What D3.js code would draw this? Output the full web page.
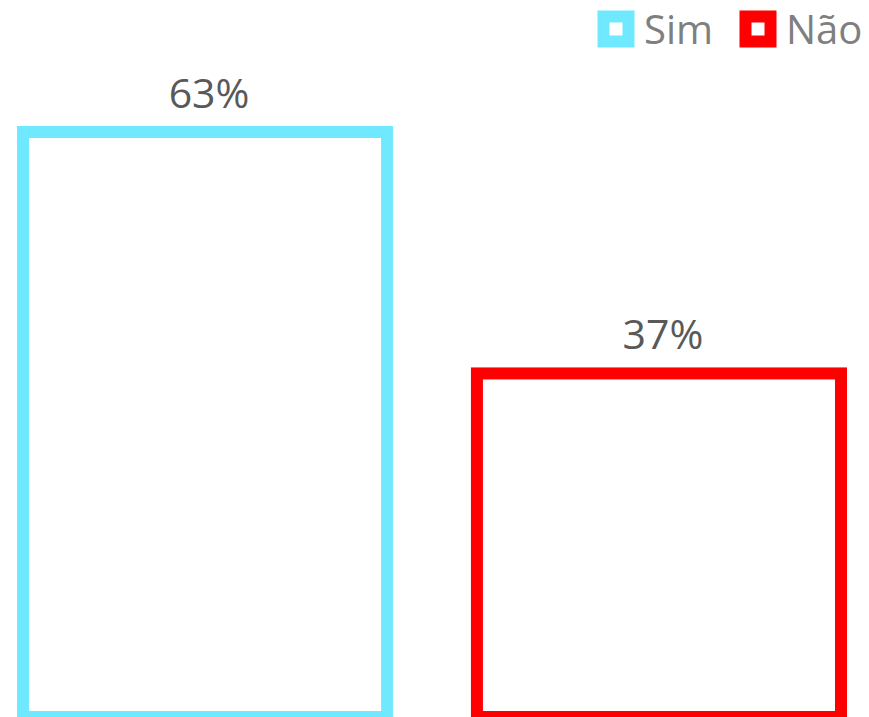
<!DOCTYPE html>
<html>
<head>
<meta charset="utf-8">
<script src="https://cdn.jsdelivr.net/npm/d3@7"></script>
<style>
  html, body { margin: 0; padding: 0; background: #fff; }
  svg { display: block; }
</style>
</head>
<body>
<svg></svg>
<script>
const categories = ["Sim", "Não"];
const values = [63, 37];
const labels = ["63%", "37%"];
const colors = ["#6EE9FF", "#FF0000"];

const width = 869;
const height = 717;
const stroke = 12;

const svg = d3.select("svg").attr("width", width).attr("height", height);

const xScale = d3.scaleBand()
  .domain(categories)
  .range([23, 841])
  .paddingInner(0.198)
  .paddingOuter(0);

const yScale = d3.scaleLinear()
  .domain([0, 63])
  .range([717, 132]);

const data = categories.map((c, i) => ({ cat: c, value: values[i], label: labels[i], color: colors[i] }));

// bars: white fill with a thick coloured outline
svg.selectAll("rect.bar")
  .data(data)
  .enter()
  .append("rect")
  .attr("class", "bar")
  .attr("x", (d) => xScale(d.cat))
  .attr("y", (d) => yScale(d.value))
  .attr("width", xScale.bandwidth())
  .attr("height", (d) => yScale(0) - yScale(d.value))
  .attr("fill", "#fff")
  .attr("stroke", (d) => d.color)
  .attr("stroke-width", stroke);

// value labels above the bars
svg.selectAll("text.label")
  .data(data)
  .enter()
  .append("text")
  .attr("class", "label")
  .attr("x", (d) => xScale(d.cat) + xScale.bandwidth() / 2 + 4)
  .attr("y", (d) => yScale(d.value) - 24)
  .attr("text-anchor", "middle")
  .attr("font-family", "'Open Sans', sans-serif")
  .attr("font-size", 41)
  .attr("fill", "#595959")
  .text((d) => d.label);

// legend, top right
const legendX = [616, 758];
const legend = svg.selectAll("g.legend")
  .data(data)
  .enter()
  .append("g")
  .attr("class", "legend")
  .attr("transform", (d, i) => "translate(" + legendX[i] + ",29)");

legend.append("rect")
  .attr("x", -12.5)
  .attr("y", -12.5)
  .attr("width", 25)
  .attr("height", 25)
  .attr("fill", "#fff")
  .attr("stroke", (d) => d.color)
  .attr("stroke-width", stroke);

legend.append("text")
  .attr("x", 28)
  .attr("y", 14.5)
  .attr("font-family", "'Open Sans', sans-serif")
  .attr("font-size", 40)
  .attr("fill", "#7F7F7F")
  .text((d) => d.cat);
</script>
</body>
</html>
